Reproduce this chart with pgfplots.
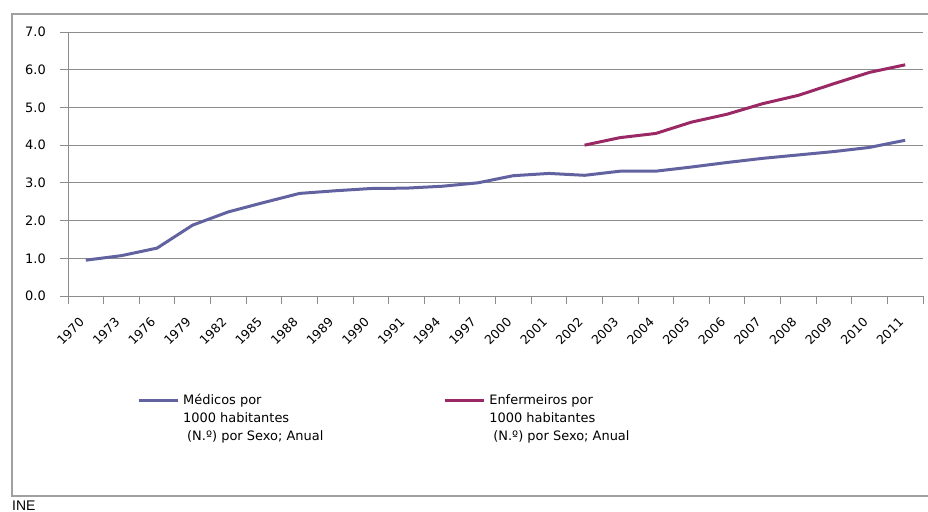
\documentclass[border=0pt]{standalone}
\usepackage{fontspec}
\setmainfont{DejaVu Sans}
\newfontfamily\inefont{Liberation Sans}
\usepackage{pgfplots}
\pgfplotsset{compat=1.18}
\definecolor{med}{RGB}{98,98,160}
\definecolor{enf}{RGB}{153,40,100}
\definecolor{gridc}{RGB}{140,140,140}
\definecolor{framec}{RGB}{160,160,160}
\begin{document}
\begin{tikzpicture}
\begin{axis}[
  scale only axis,
  width=855bp, height=264bp,
  xmin=-0.5, xmax=23.5, ymin=0, ymax=7,
  axis lines*=left,
  axis line style={gridc, line width=0.8bp, -},
  ytick={0,1,...,7},
  ymajorgrids,
  major grid style={gridc, line width=0.8bp},
  tick align=outside,
  major tick length=8bp, minor tick length=8bp,
  major y tick style={gridc, line width=0.8bp},
  major x tick style={draw=none},
  minor x tick style={gridc, line width=0.8bp},
  xtick={0,...,23},
  minor xtick={-0.5,0.5,...,23.5},
  xticklabel style={xshift=-4bp, yshift=-16bp, rotate=45, anchor=east, inner sep=0, font=\fontsize{12.5}{14}\selectfont},
  xticklabels={1970,1973,1976,1979,1982,1985,1988,1989,1990,1991,1994,1997,2000,2001,2002,2003,2004,2005,2006,2007,2008,2009,2010,2011},
  yticklabel style={font=\fontsize{13}{15}\selectfont, inner sep=0, xshift=-14bp},
  /pgf/number format/.cd, fixed, fixed zerofill, precision=1, assume math mode=true,
  /pgfplots/.cd,
  legend columns=2,
  legend style={draw=none, fill=none, inner sep=0,
    at={(axis description cs:0.0807,-0.355)}, anchor=north west,
    font=\fontsize{13}{18}\selectfont,
    cells={anchor=base west},
    /tikz/every odd column/.append style={column sep=2bp},
    /tikz/every even column/.append style={column sep=118bp}},
  legend image code/.code={\draw[#1] (0bp,4bp) -- (39bp,4bp);},
]
\coordinate (O) at (rel axis cs:0,0);
\addplot[med, line width=3bp] coordinates {
 (0,0.95) (1,1.07) (2,1.27) (3,1.88) (4,2.23) (5,2.48) (6,2.72) (7,2.79)
 (8,2.85) (9,2.86) (10,2.91) (11,3.0) (12,3.19) (13,3.25) (14,3.2) (15,3.31)
 (16,3.31) (17,3.42) (18,3.54) (19,3.65) (20,3.74) (21,3.83) (22,3.94) (23,4.13)};
\addlegendentry{\begin{tabular}[t]{@{}l@{}}Médicos por\\1000 habitantes\\\hspace{4bp}(N.º) por Sexo; Anual\end{tabular}}
\addplot[enf, line width=3bp] coordinates {
 (14,4.0) (15,4.2) (16,4.31) (17,4.61) (18,4.82) (19,5.1) (20,5.32) (21,5.63) (22,5.93) (23,6.13)};
\addlegendentry{\begin{tabular}[t]{@{}l@{}}Enfermeiros por\\1000 habitantes\\\hspace{4bp}(N.º) por Sexo; Anual\end{tabular}}
\end{axis}
\pgfresetboundingbox
\path[use as bounding box] ([shift={(-68bp,-216bp)}]O) rectangle ([shift={(860bp,296bp)}]O);
\draw[framec, line width=1.2bp] ([shift={(860bp,282bp)}]O) -- ([shift={(-56bp,282bp)}]O) -- ([shift={(-56bp,-200bp)}]O) -- ([shift={(860bp,-200bp)}]O);
\node[anchor=west, font=\inefont\fontsize{14}{16}\selectfont, inner sep=0] at ([shift={(-56bp,-210bp)}]O) {INE};
\end{tikzpicture}
\end{document}
